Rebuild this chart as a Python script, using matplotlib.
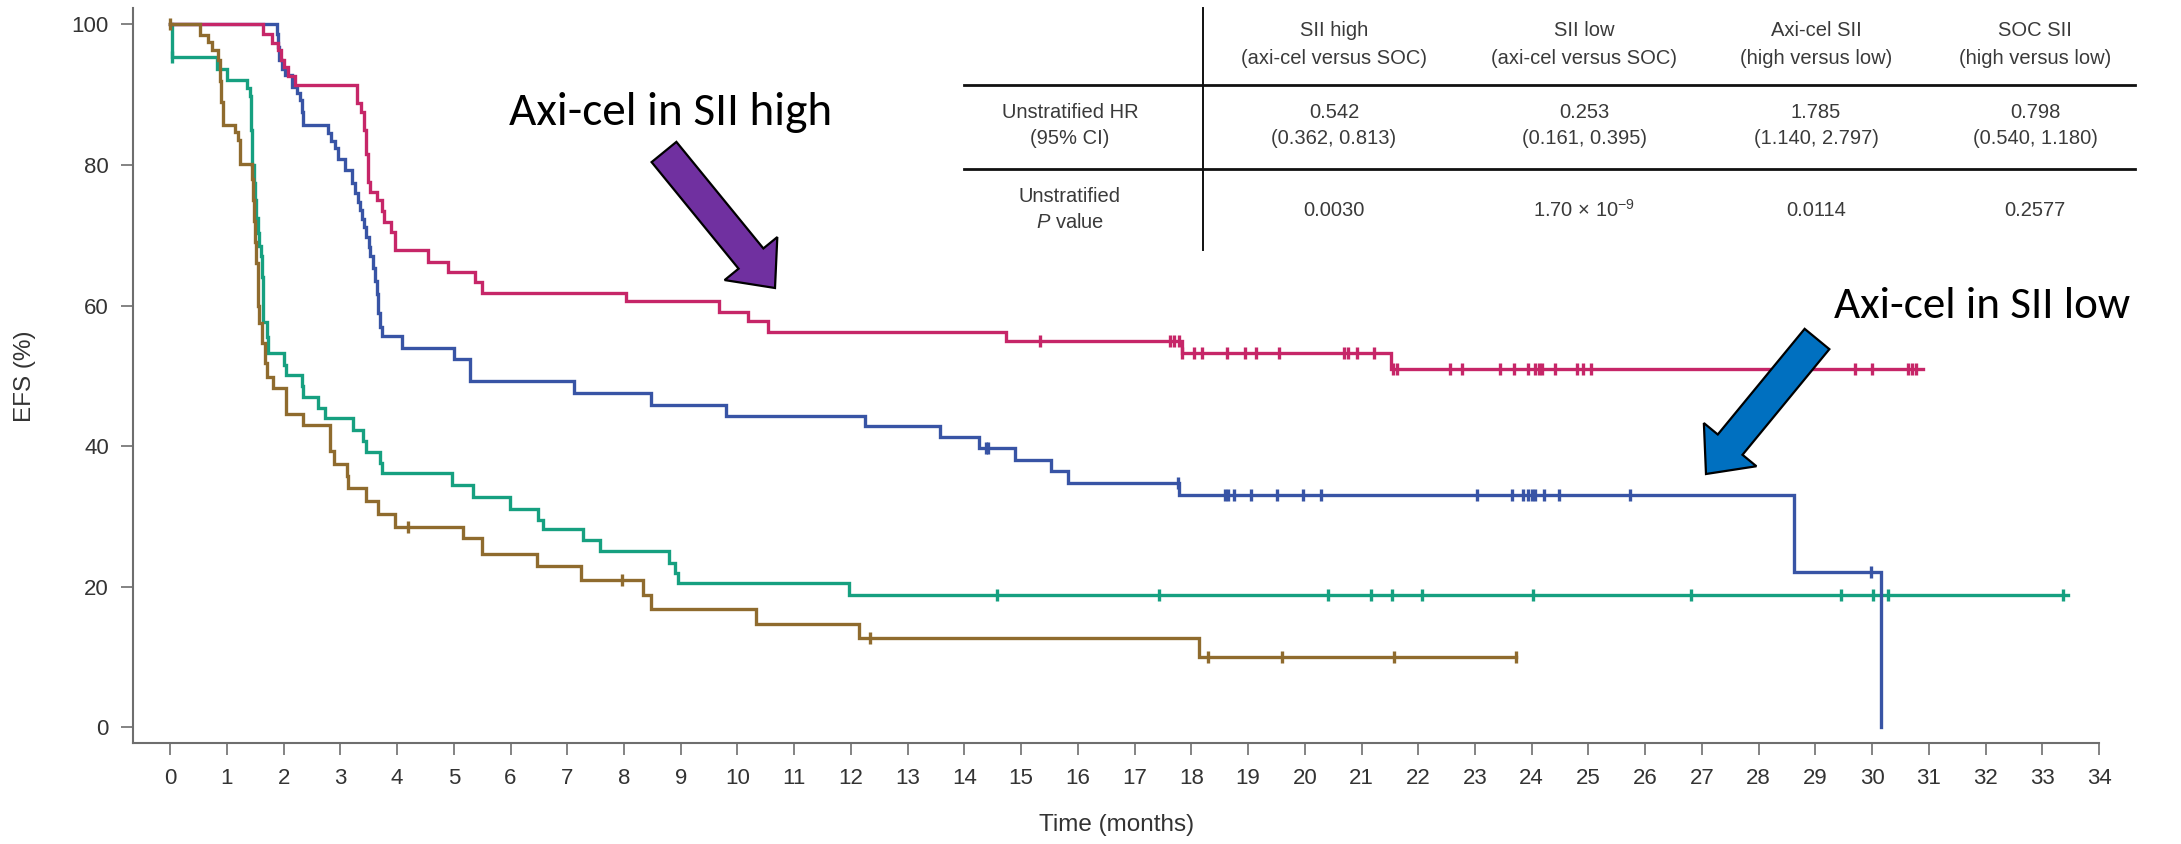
import numpy as np
import matplotlib
matplotlib.use("Agg")
import matplotlib.pyplot as plt
from matplotlib import font_manager
from matplotlib.patches import FancyArrow
from matplotlib.lines import Line2D
from matplotlib.transforms import IdentityTransform

# ---------------- data ----------------
month_ticks = list(range(0, 35))
efs_ticks = [0, 20, 40, 60, 80, 100]

# Axi-cel, SII high
pink_t = [0, 1.64, 1.80, 1.90, 1.95, 2.00, 2.08, 2.20, 3.29, 3.36, 3.41, 3.45, 3.49, 3.53,
          3.65, 3.73, 3.77, 3.89, 3.96, 4.55, 4.90, 5.37, 5.49, 8.04, 9.68, 10.18, 10.53,
          14.73, 17.84, 21.52]
pink_s = [100, 98.6, 97.3, 96.3, 95.0, 93.9, 92.7, 91.4, 88.8, 87.6, 85.0, 81.6, 77.6, 76.2,
          75.0, 73.4, 71.9, 70.5, 67.9, 66.2, 64.8, 63.4, 61.8, 60.6, 59.1, 57.8, 56.3,
          55.0, 53.3, 50.9]
pink_end = 30.9
pink_cens = [15.33, 17.63, 17.69, 17.78, 17.84, 18.05, 18.19, 18.63, 18.95, 19.14, 19.55,
             20.69, 20.77, 20.92, 21.22, 21.55, 21.62, 22.56, 22.77, 23.44, 23.68, 23.94,
             24.05, 24.12, 24.18, 24.41, 24.80, 24.90, 25.04, 29.70, 29.99, 30.63, 30.70,
             30.78]

# Axi-cel, SII low
blue_t = [0, 1.88, 1.90, 1.92, 1.97, 2.02, 2.15, 2.23, 2.29, 2.32, 2.35, 2.79, 2.84, 2.90,
          2.96, 3.08, 3.20, 3.26, 3.31, 3.35, 3.38, 3.41, 3.46, 3.50, 3.53, 3.58, 3.61, 3.64,
          3.67, 3.70, 3.73, 4.08, 5.00, 5.29, 7.12, 8.48, 9.79, 12.25, 13.57, 14.26, 14.90,
          15.52, 15.83, 17.79, 28.62, 30.15]
blue_s = [100, 98.7, 96.8, 94.9, 93.7, 92.8, 91.1, 90.2, 89.3, 87.5, 85.7, 84.5, 83.4, 82.4,
          80.9, 79.3, 77.5, 76.0, 74.8, 73.6, 72.3, 71.2, 69.8, 68.4, 67.0, 65.3, 63.5, 61.7,
          58.9, 57.0, 55.6, 53.9, 52.4, 49.3, 47.6, 45.9, 44.3, 42.9, 41.3, 39.7, 38.0,
          36.4, 34.7, 33.05, 22.05, 0.0]
blue_end = 30.15
blue_cens = [14.38, 14.42, 17.76, 18.59, 18.65, 18.75, 19.06, 19.51, 19.96, 20.29, 23.03,
             23.65, 23.84, 23.93, 24.00, 24.05, 24.21, 24.48, 25.74, 29.98]

# SOC, SII low
green_t = [0, 0.03, 0.82, 1.00, 1.36, 1.40, 1.42, 1.43, 1.44, 1.45, 1.47, 1.50, 1.52, 1.54,
           1.57, 1.60, 1.62, 1.63, 1.64, 1.70, 1.73, 2.00, 2.05, 2.32, 2.35, 2.61, 2.73,
           3.23, 3.40, 3.46, 3.70, 3.73, 4.96, 5.34, 5.99, 6.48, 6.57, 7.28, 7.57, 8.80,
           8.89, 8.95, 11.97]
green_s = [100, 95.4, 93.7, 92.1, 90.9, 89.8, 88.0, 85.0, 82.0, 80.0, 77.5, 75.0, 72.5, 70.3,
           68.5, 67.0, 64.0, 61.0, 57.6, 55.5, 53.2, 51.5, 50.1, 48.5, 47.0, 45.4, 44.0,
           42.3, 40.7, 39.2, 37.6, 36.1, 34.5, 32.8, 31.1, 29.5, 28.2, 26.6, 25.0, 23.3,
           21.9, 20.5, 18.8]
green_end = 33.45
green_cens = [0.03, 14.58, 17.43, 20.41, 21.16, 21.54, 22.06, 24.03, 26.80, 29.46, 30.02,
              30.28, 33.37]

# SOC, SII high
brown_t = [0, 0.53, 0.67, 0.73, 0.85, 0.87, 0.90, 0.93, 1.14, 1.20, 1.23, 1.44, 1.46, 1.48,
           1.50, 1.52, 1.54, 1.555, 1.56, 1.62, 1.67, 1.70, 1.82, 2.05, 2.35, 2.82, 2.88,
           3.11, 3.14, 3.46, 3.67, 3.96, 5.16, 5.49, 6.46, 7.25, 8.33, 8.47, 10.33, 12.15,
           18.13]
brown_s = [100, 98.5, 97.5, 96.3, 95.0, 92.0, 89.0, 85.7, 84.7, 83.5, 80.2, 78.0, 75.0, 72.0,
           69.0, 66.0, 63.0, 60.0, 57.5, 54.6, 51.8, 49.9, 48.2, 44.5, 43.0, 39.3, 37.5,
           35.7, 34.0, 32.2, 30.4, 28.5, 26.9, 24.7, 22.9, 21.0, 18.8, 16.8, 14.7, 12.7,
           10.0]
brown_end = 23.72
brown_cens = [0.0, 4.20, 7.97, 12.34, 18.30, 19.60, 21.58, 23.72]

# Hazard-ratio summary table
table_heads = [("SII high", "(axi-cel versus SOC)"),
               ("SII low", "(axi-cel versus SOC)"),
               ("Axi-cel SII", "(high versus low)"),
               ("SOC SII", "(high versus low)")]
table_hr = [("0.542", "(0.362, 0.813)"),
            ("0.253", "(0.161, 0.395)"),
            ("1.785", "(1.140, 2.797)"),
            ("0.798", "(0.540, 1.180)")]
table_p = ["0.0030", r"1.70 × 10$^{\mathregular{-9}}$", "0.0114", "0.2577"]
row_hr_label = ("Unstratified HR", "(95% CI)")
row_p_label = ("Unstratified", r"$\mathit{P}$ value")

label_high = "Axi-cel in SII high"
label_low = "Axi-cel in SII low"

# ---------------- styling ----------------
names = {f.name for f in font_manager.fontManager.ttflist}
base_font = "Liberation Sans" if "Liberation Sans" in names else "DejaVu Sans"
callout_font = next((f for f in ["Carlito", "Lato", "Open Sans"] if f in names), "DejaVu Sans")

plt.rcParams["font.family"] = [base_font, "DejaVu Sans"]
plt.rcParams["mathtext.fontset"] = "custom"
plt.rcParams["mathtext.rm"] = base_font
plt.rcParams["mathtext.it"] = base_font + ":italic"
plt.rcParams["mathtext.default"] = "regular"

W, H = 2181, 844
fig = plt.figure(figsize=(W / 100, H / 100), dpi=100)
fig.patch.set_facecolor("white")

ax_left, ax_right, ax_top, ax_bottom = 133.3, 2099.0, 8.3, 743.3
ax = fig.add_axes([ax_left / W, 1 - ax_bottom / H,
                   (ax_right - ax_left) / W, (ax_bottom - ax_top) / H])

col_pink = "#C62668"
col_blue = "#3854A5"
col_green = "#16A080"
col_brown = "#8F6B2E"
lw = 2.4


def km(t, s, end, cens, color, z):
    t = np.asarray(t, float)
    s = np.asarray(s, float)
    ax.step(np.append(t, end), np.append(s, s[-1]), where="post",
            color=color, lw=lw, zorder=z, solid_joinstyle="miter")
    c = np.asarray(cens, float)
    idx = np.searchsorted(t, c, side="right") - 1
    ax.plot(c, s[idx], linestyle="none", marker="|", markersize=9,
            markeredgewidth=2.4, color=color, zorder=z)


km(green_t, green_s, green_end, green_cens, col_green, 2)
km(blue_t, blue_s, blue_end, blue_cens, col_blue, 3)
km(pink_t, pink_s, pink_end, pink_cens, col_pink, 4)
km(brown_t, brown_s, brown_end, brown_cens, col_brown, 5)

ax.set_xlim(-0.65, 34)
ax.set_ylim(-2.3, 102.3)
ax.set_xticks(month_ticks)
ax.set_yticks(efs_ticks)
for sp in ("top", "right"):
    ax.spines[sp].set_visible(False)
for sp in ("left", "bottom"):
    ax.spines[sp].set_color("#6e6e6e")
    ax.spines[sp].set_linewidth(1.5)
ax.tick_params(axis="both", direction="out", length=8.6, width=1.2, color="#6e6e6e",
               labelsize=16, labelcolor="#333333")
ax.tick_params(axis="x", pad=9)
ax.tick_params(axis="y", pad=9)

ax.set_xlabel("Time (months)", fontsize=17.5, color="#333333")
ax.set_ylabel("EFS (%)", fontsize=17.5, color="#333333")
ax.xaxis.set_label_coords(0.5, -0.111)
ax.xaxis.label.set_va("center")
ax.yaxis.set_label_coords(-0.055, 0.5)
ax.yaxis.label.set_va("center")


def fx(x):
    return x / W


def fy(y):
    return 1 - y / H


# table
tcol = "#3a3a3a"
tsize = 14.5
col_x = [1334, 1584, 1816, 2035]
row_label_x = 1070
fig.add_artist(Line2D([fx(1203), fx(1203)], [fy(8), fy(250)], color="#111111", lw=1.4))
for yl in (85, 169):
    fig.add_artist(Line2D([fx(964), fx(2135)], [fy(yl), fy(yl)], color="#111111", lw=2.0))

for x, (a, b) in zip(col_x, table_heads):
    fig.text(fx(x), fy(30), a, ha="center", va="center", fontsize=tsize, color=tcol)
    fig.text(fx(x), fy(59), b, ha="center", va="center", fontsize=tsize, color=tcol)
for x, (a, b) in zip(col_x, table_hr):
    fig.text(fx(x), fy(113), a, ha="center", va="center", fontsize=tsize, color=tcol)
    fig.text(fx(x), fy(138), b, ha="center", va="center", fontsize=tsize, color=tcol)
for x, p in zip(col_x, table_p):
    fig.text(fx(x), fy(210), p, ha="center", va="center", fontsize=tsize, color=tcol)
fig.text(fx(row_label_x), fy(113), row_hr_label[0], ha="center", va="center", fontsize=tsize, color=tcol)
fig.text(fx(row_label_x), fy(138), row_hr_label[1], ha="center", va="center", fontsize=tsize, color=tcol)
fig.text(fx(row_label_x), fy(196), row_p_label[0], ha="center", va="center", fontsize=tsize, color=tcol)
fig.text(fx(row_label_x), fy(223), row_p_label[1], ha="center", va="center", fontsize=tsize, color=tcol)

# call-out labels and arrows
fig.text(fx(509), fy(125), label_high, ha="left", va="baseline", fontsize=34,
         family=callout_font, color="black")
fig.text(fx(1834), fy(318), label_low, ha="left", va="baseline", fontsize=32.5,
         family=callout_font, color="black")

ident = IdentityTransform()


def block_arrow(tail, tip, face):
    x0, y0 = tail[0], H - tail[1]
    x1, y1 = tip[0], H - tip[1]
    arr = FancyArrow(x0, y0, x1 - x0, y1 - y0, width=32, head_width=68, head_length=38,
                     length_includes_head=True, transform=ident, facecolor=face,
                     edgecolor="black", linewidth=1.6, zorder=10)
    fig.add_artist(arr)


block_arrow((664, 152), (775, 288), "#7030A0")
block_arrow((1817, 339), (1706, 474), "#0070C0")

fig.savefig("out.png", dpi=100, facecolor="white")
